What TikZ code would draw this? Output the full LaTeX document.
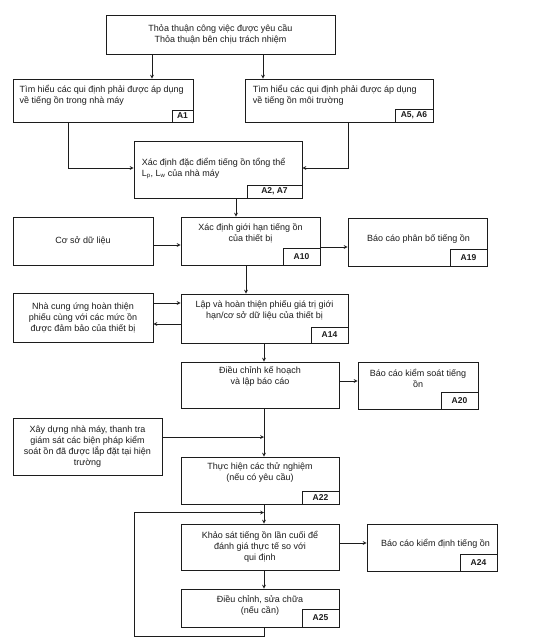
\documentclass[tikz,border=0pt]{standalone}
\usepackage{fontspec}
\setmainfont{Liberation Sans}
\definecolor{ink}  {HTML}{1C1C1C}
\definecolor{paper}{HTML}{FFFFFF}
\usetikzlibrary{positioning,calc,arrows}
\tikzset{
  stagebox/.style={draw=ink,line width=0.9pt,fill=paper,inner sep=0pt},
  stagetext/.style={font=\fontsize{9}{11}\selectfont,text=ink,align=center,
                    inner sep=0pt},
  reftag/.style={draw=ink,line width=0.9pt,anchor=south east,inner sep=0pt,
                 minimum width=37pt,minimum height=17pt,text=ink,
                 font=\bfseries\fontsize{8.5}{10}\selectfont},
  flow/.style={->,>=stealth,line width=0.7pt,draw=ink}
}

\begin{document}
\begin{tikzpicture}[x=1pt,y=-1pt]
  \useasboundingbox[fill=paper] (0,0) rectangle (548,644);
  % upper part
  \node[stagebox,stagetext,minimum width=229pt,minimum height=39pt] (agree) at (220.5,34.5)
    {Thỏa thuận công việc được yêu cầu\\Thỏa thuận bên chịu trách nhiệm};
  \node[stagebox,minimum width=180pt,minimum height=43pt] (rulesin) at (103,100.5) {};
  \node[stagetext,anchor=west,align=left] (rulesintxt) at ([xshift=7pt,yshift=5.5pt]rulesin.west)
    {Tìm hiểu các qui định phải được áp dụng\\về tiếng ồn trong nhà máy};
  \node[reftag,minimum width=21pt,minimum height=12pt] (rulesintag) at (rulesin.south east) {A1};
  \node[stagebox,minimum width=188pt,minimum height=43pt] (rulesout) at (339,100.5) {};
  \node[stagetext,anchor=west,align=left] (rulesouttxt) at ([xshift=8pt,yshift=5.5pt]rulesout.west)
    {Tìm hiểu các qui định phải được áp dụng\\về tiếng ồn môi trường};
  \node[reftag,minimum width=38pt,minimum height=13pt] (rulesouttag) at (rulesout.south east) {A5, A6};
  \node[stagebox,minimum width=168pt,minimum height=57pt] (overall) at (218,169.5) {};
  \node[stagetext,anchor=west,align=left] (overalltxt) at ([xshift=8pt,yshift=1.5pt]overall.west)
    {Xác định đặc điểm tiếng ồn tổng thể\\L\textsubscript{p}, L\textsubscript{w} của nhà máy};
  \node[reftag,minimum width=55pt,minimum height=13pt] (overalltag) at (overall.south east) {A2, A7};

  % equipment limits
  \node[stagebox,stagetext,minimum width=140pt,minimum height=48pt] (database) at (83,241) {Cơ sở dữ liệu};
  \node[stagebox,minimum width=139pt,minimum height=48pt] (limits) at (250.5,241) {};
  \node[stagetext] (limitstxt) at ([yshift=7.5pt]limits.center)
    {Xác định giới hạn tiếng ồn\\của thiết bị};
  \node[reftag] (limitstag) at (limits.south east) {A10};
  \node[stagebox,minimum width=139pt,minimum height=48pt] (layout) at (417.5,242) {};
  \node[stagetext] (layouttxt) at ([xshift=1pt,yshift=3pt]layout.center) {Báo cáo phân bố tiếng ồn};
  \node[reftag] (layouttag) at (layout.south east) {A19};
  \node[stagebox,stagetext,minimum width=140pt,minimum height=49pt] (supplier) at (83,317.5)
    {Nhà cung ứng hoàn thiện\\phiếu cùng với các mức ồn\\được đảm bảo của thiết bị};
  \node[stagebox,minimum width=167pt,minimum height=49pt] (sheet) at (264.5,318.5) {};
  \node[stagetext] (sheettxt) at ([yshift=8.5pt]sheet.center)
    {Lập và hoàn thiện phiếu giá trị giới\\hạn/cơ sở dữ liệu của thiết bị};
  \node[reftag,minimum height=16pt] (sheettag) at (sheet.south east) {A14};

  % planning and site
  \node[stagebox,minimum width=158pt,minimum height=46pt] (plan) at (260,385) {};
  \node[stagetext] (plantxt) at ([yshift=9pt]plan.center) {Điều chỉnh kế hoạch\\và lập báo cáo};
  \node[stagebox,minimum width=120pt,minimum height=47pt] (control) at (418,385.5) {};
  \node[stagetext] (controltxt) at ([yshift=7pt]control.center) {Báo cáo kiểm soát tiếng\\ồn};
  \node[reftag] (controltag) at (control.south east) {A20};
  \node[stagebox,stagetext,minimum width=149pt,minimum height=57pt] (build) at (87.5,446.5)
    {Xây dựng nhà máy, thanh tra\\giám sát các biện pháp kiểm\\soát ồn đã được lắp đặt tại hiện\\trường};
  \node[stagebox,minimum width=158pt,minimum height=47pt] (tests) at (260,480.5) {};
  \node[stagetext] (teststxt) at ([yshift=7.5pt]tests.center) {Thực hiện các thử nghiệm\\(nếu có yêu cầu)};
  \node[reftag,minimum height=13pt] (teststag) at (tests.south east) {A22};
  \node[stagebox,stagetext,minimum width=158pt,minimum height=46pt] (survey) at (260,547)
    {Khảo sát tiếng ồn lần cuối để\\đánh giá thực tế so với\\qui định};
  \node[stagebox,minimum width=130pt,minimum height=47pt] (verify) at (432,547.5) {};
  \node[stagetext] (verifytxt) at ([xshift=3.5pt,yshift=3.5pt]verify.center) {Báo cáo kiểm định tiếng ồn};
  \node[reftag] (verifytag) at (verify.south east) {A24};
  \node[stagebox,minimum width=158pt,minimum height=38pt] (repair) at (260,608) {};
  \node[stagetext] (repairtxt) at ([yshift=2.5pt]repair.center) {Điều chỉnh, sửa chữa\\(nếu cần)};
  \node[reftag,minimum height=18pt] (repairtag) at (repair.south east) {A25};

  % connectors
  \coordinate (spine) at (264,0);
  \coordinate (loopcorner) at (134,636);
  \draw[flow] ([xshift=-68.5pt]agree.south) -- ([xshift=-68.5pt]agree.south |- rulesin.north);
  \draw[flow] ([xshift=42.5pt]agree.south) -- ([xshift=42.5pt]agree.south |- rulesout.north);
  \draw[flow] ([xshift=-35pt]rulesin.south) |- ([yshift=1.5pt]overall.west);
  \draw[flow] ([xshift=9pt]rulesout.south) |- ([yshift=1.5pt]overall.east);
  \draw[flow] ([xshift=18pt]overall.south) -- ([xshift=18pt]overall.south |- limits.north);
  \draw[flow] ([yshift=-4pt]database.east) -- ([yshift=-4pt]database.east -| limits.west);
  \draw[flow] ([yshift=-6pt]limits.east) -- ([yshift=-6pt]limits.east -| layout.west);
  \draw[flow] ([xshift=-4.5pt]limits.south) -- ([xshift=-4.5pt]limits.south |- sheet.north);
  \draw[flow] ([yshift=14.5pt]supplier.east) -- ([yshift=14.5pt]supplier.east -| sheet.west);
  \draw[flow] ([yshift=-5.5pt]sheet.west) -- ([yshift=-5.5pt]sheet.west -| supplier.east);
  \draw[flow] (spine |- sheet.south) -- (spine |- plan.north);
  \draw[flow] ([yshift=4pt]plan.east) -- ([yshift=4pt]plan.east -| control.west);
  \draw[flow] (spine |- plan.south) -- (spine |- tests.north);
  \draw[flow] ([yshift=9.5pt]build.east) -- ([yshift=9.5pt]build.east -| spine);
  \draw[flow] (spine |- tests.south) -- (spine |- survey.north);
  \draw[flow] ([yshift=4pt]survey.east) -- ([yshift=4pt]survey.east -| verify.west);
  \draw[flow] (spine |- survey.south) -- (spine |- repair.north);
  \draw[flow] (spine |- repair.south) |- (loopcorner) |- ([yshift=11pt]spine |- survey.north);
\end{tikzpicture}
\end{document}
